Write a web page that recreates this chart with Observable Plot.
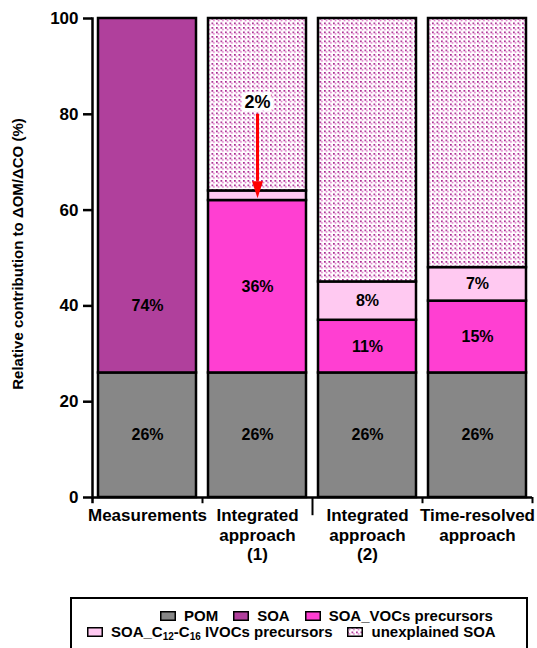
<!DOCTYPE html>
<html><head><meta charset="utf-8">
<script src="https://cdn.jsdelivr.net/npm/d3@7"></script>
<script src="https://cdn.jsdelivr.net/npm/@observablehq/plot@0.6"></script>
<style>
body{margin:0;background:#fff;font-family:"Liberation Sans",Arial,sans-serif;font-weight:bold;}
#wrap{position:relative;width:537px;height:648px;overflow:hidden;}
#chart{position:absolute;left:0;top:0;}
#legend{position:absolute;left:70px;top:597px;width:458px;height:80px;border:2px solid #000;box-sizing:border-box;background:#fff;}
.row{position:absolute;display:flex;align-items:center;gap:15px;white-space:nowrap;font-size:15px;line-height:1;}
.item{display:flex;align-items:center;}
.sw{display:block;margin-right:8px;}
sub{font-size:10px;vertical-align:-3px;line-height:0;}
</style></head>
<body>
<div id="wrap"><div id="chart"></div><div id="legend"></div></div>
<script>
// ---- data ----
const categories = ["Measurements", "Integrated\napproach\n(1)", "Integrated\napproach\n(2)", "Time-resolved\napproach"];
const components = ["POM", "SOA", "SOA_VOCs precursors", "SOA_C12-C16 IVOCs precursors", "unexplained SOA"];
const colors = ["#878787", "#b0409c", "#ff3fd2", "#ffc9f1", "url(#unexplained-dots)"];
const pom = [26, 26, 26, 26];
const soa = [74, 0, 0, 0];
const vocs = [0, 36, 11, 15];
const ivocs = [0, 2, 8, 7];
const unexplained = [0, 36, 55, 52];
const yTicks = [0, 20, 40, 60, 80, 100];
const yTitle = "Relative contribution to \u0394OM/\u0394CO (%)";
const soaLabelAt = 40;          // where the 74% label sits
const arrowNote = "2%";         // annotation of the small IVOCs share in approach (1)
const arrowFrom = 80, arrowTo = 62.5, noteAt = 82.5;

// ---- build table ----
const series = [pom, soa, vocs, ivocs, unexplained];
const rows = [];
categories.forEach((cat, i) => {
  let base = 0;
  components.forEach((comp, j) => {
    const v = series[j][i];
    if (v > 0) {
      const labelled = comp !== "unexplained SOA" && !(i === 1 && comp === components[3]);
      rows.push({cat, comp, value: v, mid: (comp === "SOA" && i === 0) ? soaLabelAt : base + v / 2, label: labelled ? v + "%" : null});
    }
    base += v;
  });
});

const W = 537, H = 590, ML = 92, MR = 5, MT = 18, MB = 93;
const padIn = 0.11, padOut = 0.055;
const step = (W - ML - MR) / (categories.length - padIn + 2 * padOut);

const symbolDown = {draw(ctx) { ctx.moveTo(-5.5, -17); ctx.lineTo(5.5, -17); ctx.lineTo(0, 0); ctx.closePath(); }};

const svg = Plot.plot({
  width: W, height: H,
  marginLeft: ML, marginRight: MR, marginTop: MT, marginBottom: MB,
  style: {fontFamily: "'Liberation Sans', Arial, sans-serif", fontWeight: "bold", fontSize: "17px", background: "white", overflow: "visible"},
  x: {domain: categories, paddingInner: padIn, paddingOuter: padOut, axis: null},
  y: {domain: [0, 100], axis: null},
  color: {type: "ordinal", domain: components, range: colors},
  marks: [
    Plot.barY(rows, {x: "cat", y: "value", fill: "comp", order: components, stroke: "black", strokeWidth: 2.5}),
    Plot.text(rows.filter(d => d.label), {x: "cat", y: "mid", text: "label", fontSize: 16, fontWeight: "bold", fill: "black"}),
    Plot.ruleX([categories[1]], {y1: arrowFrom, y2: arrowTo + 3.5, stroke: "red", strokeWidth: 3}),
    Plot.dot([categories[1]], {x: d => d, y: arrowTo, symbol: symbolDown, fill: "red", stroke: null, r: 5}),
    Plot.text([arrowNote], {x: () => categories[1], y: noteAt, text: d => d, fontSize: 18, fontWeight: "bold", fill: "black", stroke: "white", strokeWidth: 7, paintOrder: "stroke"}),
    Plot.frame({anchor: "left", strokeWidth: 2.5}),
    Plot.ruleY([0], {strokeWidth: 2.5}),
    Plot.ruleX(categories, {x: d => d, y1: 0, y2: (d, i) => i === 1 ? -3.8 : -1.3, dx: step / 2, strokeWidth: 2}),
    Plot.ruleX([categories[0]], {x: d => d, y1: 0, y2: -1.3, dx: -step / 2, strokeWidth: 2.5}),
    Plot.axisY({ticks: yTicks, tickSize: 9, tickPadding: 5, fontSize: 17, strokeWidth: 2.5, label: null}),
    Plot.axisX({tickSize: 0, tickPadding: 10, fontSize: 17, lineHeight: 1.15, label: null}),
    Plot.text([yTitle], {frameAnchor: "left", text: d => d, rotate: -90, dx: -74, dy: -4, textAnchor: "middle", fontSize: 15, fontWeight: "bold", fill: "black"})
  ]
});

const defs = d3.select(svg).insert("defs", ":first-child");
function addPattern(sel, id) {
  const p = sel.append("pattern").attr("id", id).attr("patternUnits", "userSpaceOnUse").attr("width", 4.5).attr("height", 4.5);
  p.append("rect").attr("width", 4.5).attr("height", 4.5).attr("fill", "white");
  p.append("rect").attr("x", 0).attr("y", 0).attr("width", 1.7).attr("height", 1.7).attr("fill", "#a8288f");
  p.append("rect").attr("x", 1.7).attr("y", 1.7).attr("width", 1.5).attr("height", 1.5).attr("fill", "#dc60c0");
}
addPattern(defs, "unexplained-dots");
document.getElementById("chart").appendChild(svg);

// ---- legend ----
const legendNames = ["POM", "SOA", "SOA_VOCs precursors", "SOA_C<sub>12</sub>-C<sub>16</sub> IVOCs precursors", "unexplained SOA"];
const legend = d3.select("#legend");
const rowsDef = [{items: [0, 1, 2], left: 88, top: 9}, {items: [3, 4], left: 15, top: 25}];
rowsDef.forEach(r => {
  const row = legend.append("div").attr("class", "row").style("left", r.left + "px").style("top", r.top + "px");
  r.items.forEach(k => {
    const it = row.append("div").attr("class", "item");
    const s = it.append("svg").attr("class", "sw").attr("width", 16).attr("height", 10);
    if (k === 4) addPattern(s.append("defs"), "legend-dots");
    s.append("rect").attr("x", 0.75).attr("y", 0.75).attr("width", 14.5).attr("height", 8.5)
      .attr("fill", k === 4 ? "url(#legend-dots)" : colors[k]).attr("stroke", "black").attr("stroke-width", 1.5);
    it.append("span").html(legendNames[k]);
  });
});
</script>
</body></html>
